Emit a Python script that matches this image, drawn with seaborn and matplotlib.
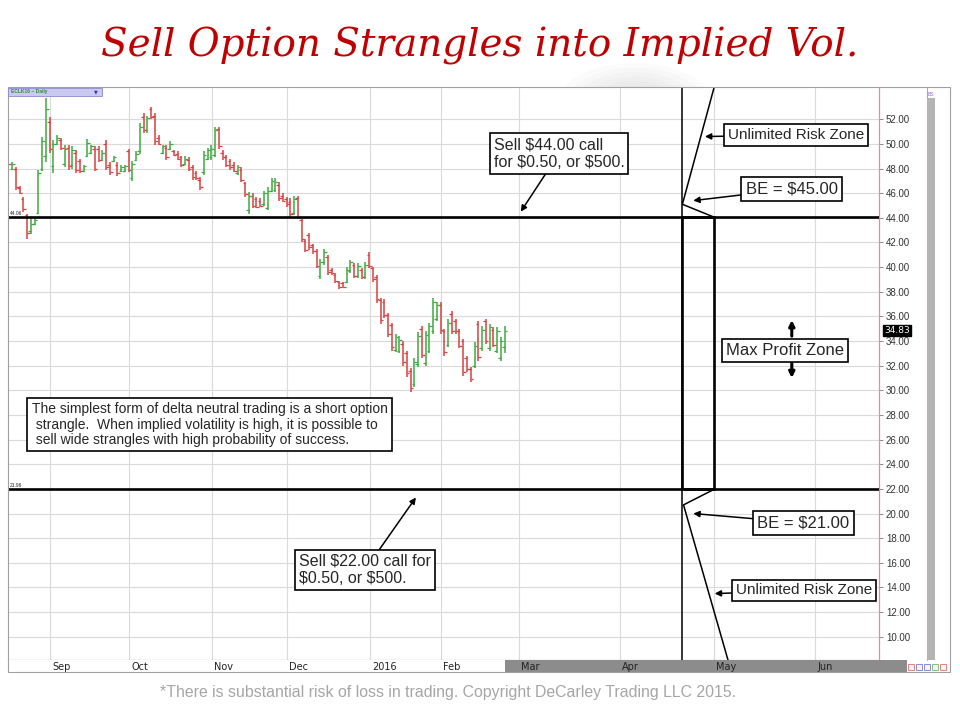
import numpy as np
import pandas as pd
import matplotlib
matplotlib.use("Agg")
import matplotlib.pyplot as plt
import matplotlib.patches as mpatches
import matplotlib.transforms as mtransforms
import seaborn as sns

# daily OHLC bars, ECLK16 (Aug 2015 - Feb 2016)
highs = [49.0, 48.5, 48.1, 46.6, 45.7, 44.3, 43.9, 44.0, 47.9, 50.6,
         53.7, 52.2, 50.3, 50.7, 50.5, 49.9, 49.9, 49.8, 49.5, 48.8,
         48.3, 50.4, 49.9, 49.8, 49.8, 49.5, 50.3, 48.5, 49.0, 48.5,
         48.3, 48.3, 49.6, 48.6, 49.4, 51.7, 52.5, 52.3, 53.0, 52.5,
         50.7, 49.9, 49.9, 50.2, 49.5, 49.4, 49.0, 49.0, 48.9, 48.3,
         47.8, 47.3, 49.4, 49.7, 49.9, 51.4, 51.4, 49.5, 49.1, 48.8,
         48.5, 48.3, 48.1, 46.9, 46.1, 46.0, 45.7, 45.6, 46.2, 46.5,
         47.2, 47.2, 46.9, 46.0, 45.7, 45.6, 45.8, 45.8, 43.9, 42.3,
         42.8, 41.9, 41.5, 40.7, 41.5, 41.0, 39.9, 39.5, 38.9, 38.8,
         40.0, 40.6, 40.3, 40.3, 39.9, 40.4, 41.2, 40.0, 39.4, 37.5,
         37.4, 36.3, 35.5, 34.6, 34.4, 34.0, 33.2, 31.8, 32.6, 34.7,
         35.2, 34.8, 35.5, 37.5, 37.2, 37.2, 35.0, 35.8, 36.4, 35.8,
         35.0, 34.2, 32.8, 31.9, 33.9, 35.6, 35.2, 35.8, 35.4, 35.1,
         35.1, 34.3, 35.2]
lows = [48.2, 47.9, 46.3, 45.9, 44.5, 42.3, 42.7, 43.4, 44.3, 47.8,
        48.5, 49.3, 47.6, 49.9, 49.5, 48.1, 47.9, 48.0, 47.6, 47.6,
        47.7, 48.9, 49.2, 47.8, 48.5, 48.6, 47.9, 47.5, 48.5, 47.4,
        47.7, 47.7, 47.7, 47.0, 48.6, 49.2, 50.9, 50.9, 52.0, 49.9,
        49.9, 49.2, 48.7, 49.5, 49.0, 48.7, 48.1, 48.3, 47.8, 47.1,
        47.1, 46.3, 47.5, 48.7, 48.7, 48.9, 49.6, 48.7, 48.1, 47.9,
        47.7, 47.5, 46.9, 45.7, 44.3, 44.8, 44.8, 44.9, 45.0, 44.6,
        46.1, 46.1, 45.4, 45.3, 44.9, 44.1, 44.2, 43.9, 42.0, 41.2,
        41.4, 41.1, 39.9, 39.0, 40.2, 39.4, 39.4, 38.7, 38.2, 38.3,
        38.7, 39.5, 39.1, 39.1, 39.0, 39.0, 39.9, 38.8, 37.1, 35.4,
        35.9, 34.3, 33.2, 33.1, 33.0, 32.0, 31.1, 29.9, 30.3, 31.9,
        32.6, 32.0, 33.0, 34.6, 35.6, 34.6, 32.8, 33.5, 34.6, 34.6,
        33.4, 31.2, 31.5, 30.7, 31.8, 32.4, 33.2, 33.8, 33.2, 33.5,
        33.0, 32.4, 33.0]
opens = [48.9, 48.0, 48.0, 46.4, 45.5, 44.2, 42.9, 43.5, 44.4, 48.0,
         49.0, 51.8, 48.2, 50.0, 50.3, 48.4, 49.7, 48.3, 49.3, 48.6,
         47.8, 49.0, 49.3, 49.6, 49.6, 48.7, 50.0, 48.3, 48.6, 48.3,
         47.8, 47.8, 49.4, 47.2, 48.7, 49.4, 52.2, 51.1, 52.8, 52.3,
         50.5, 49.3, 49.7, 49.6, 49.4, 49.2, 48.9, 48.4, 48.7, 48.1,
         47.6, 47.1, 47.7, 48.8, 48.9, 49.1, 51.2, 49.3, 48.9, 48.6,
         48.3, 47.6, 47.9, 46.8, 44.6, 45.8, 45.5, 45.4, 45.1, 44.8,
         46.2, 46.3, 46.7, 45.8, 45.5, 45.3, 44.4, 45.6, 43.8, 42.1,
         42.6, 41.8, 41.3, 39.3, 40.4, 40.8, 39.8, 39.4, 38.8, 38.7,
         38.8, 39.7, 40.2, 39.3, 39.8, 39.2, 41.0, 39.9, 39.2, 37.3,
         37.2, 36.1, 35.3, 33.3, 33.2, 33.8, 33.0, 31.6, 30.5, 32.1,
         35.0, 32.2, 33.2, 34.8, 35.8, 36.9, 34.8, 33.7, 36.2, 35.6,
         34.8, 34.0, 32.6, 31.7, 32.0, 35.4, 33.4, 35.6, 33.4, 34.9,
         33.2, 32.6, 33.5]
closes = [48.4, 48.4, 46.5, 46.0, 44.7, 42.8, 43.5, 43.8, 47.6, 50.2,
          52.8, 49.6, 50.0, 50.5, 49.7, 49.6, 48.2, 49.5, 47.9, 47.8,
          48.2, 50.1, 49.8, 48.0, 48.7, 49.3, 48.1, 47.7, 48.9, 47.6,
          48.1, 48.2, 47.9, 48.4, 49.2, 51.4, 51.1, 52.1, 52.2, 50.2,
          50.0, 49.8, 48.9, 50.0, 49.1, 48.8, 48.3, 48.8, 48.0, 47.3,
          47.2, 46.5, 49.1, 49.5, 49.6, 51.1, 49.8, 48.9, 48.3, 48.1,
          47.8, 48.1, 47.1, 45.9, 45.8, 45.0, 44.9, 45.0, 46.0, 46.2,
          47.0, 46.9, 45.6, 45.4, 45.1, 44.3, 45.5, 44.1, 42.3, 41.4,
          41.6, 41.3, 40.1, 40.4, 41.2, 39.6, 39.5, 38.9, 38.4, 38.4,
          39.8, 40.4, 39.3, 40.1, 39.2, 40.2, 40.1, 39.0, 37.4, 35.7,
          36.1, 34.6, 33.5, 34.3, 34.1, 32.3, 31.4, 30.2, 32.3, 34.4,
          32.9, 34.5, 35.2, 37.2, 36.9, 34.9, 33.1, 35.5, 34.8, 34.8,
          33.6, 31.5, 31.7, 30.9, 33.6, 32.7, 34.9, 34.0, 35.1, 33.7,
          34.8, 34.0, 34.83]

# x axis: month starts in bar-index units (future months are drawn wider)
month_pos = [11.1, 32.1, 54.2, 74.1, 96.2, 115.1, 135.8, 162.7, 187.7, 214.5]
month_labels = ["Sep", "Oct", "Nov", "Dec", "2016", "Feb", "Mar", "Apr", "May", "Jun"]
price_ticks = list(range(10, 54, 2))

# strangle
call_strike = 44.06
put_strike = 21.96
expiry_x = 179.3
box_right = 187.7
upper_payoff_x = [box_right, expiry_x, 188.1]
upper_payoff_y = [call_strike, 45.1, 55.0]
lower_payoff_x = [box_right, 179.6, 192.0]
lower_payoff_y = [put_strike, 20.7, 7.5]

df = pd.DataFrame({"high": highs, "low": lows, "open": opens, "close": closes})
df["idx"] = np.arange(len(df))
df["col"] = np.where(df["close"] >= df["open"], "#3ea83e", "#d94040")

sns.set_theme(style="whitegrid")
plt.rcParams["font.family"] = ["Liberation Sans", "DejaVu Sans"]

W, H = 960, 720
fig = plt.figure(figsize=(9.6, 7.2), dpi=100)
fig.patch.set_facecolor("white")

def fx(x):
    return x / W

def fy(y):
    return 1 - y / H

# soft grey shadow behind the title
for k in range(8):
    fig.patches.append(mpatches.Ellipse((fx(635), fy(108)), fx(160 - k * 17), (90 - k * 9) / H,
                                        transform=fig.transFigure, color="#808080",
                                        alpha=0.03, lw=0, zorder=-5))

fig.text(0.5, fy(46), "Sell Option Strangles into Implied Vol.", color="#c00000",
         fontsize=28, family="DejaVu Serif", style="italic", ha="center", va="center")

ax = fig.add_axes([fx(8), fy(660), fx(871), 572 / H])
ax.set_facecolor("white")
ax.set_xlim(-0.1, 231.6)
ax.set_ylim(8.11, 54.54)

ax.vlines(df["idx"], df["low"], df["high"], colors=df["col"], lw=1.1, zorder=3)
ax.hlines(df["open"], df["idx"] - 0.7, df["idx"], colors=df["col"], lw=0.9, zorder=3)
ax.hlines(df["close"], df["idx"], df["idx"] + 0.7, colors=df["col"], lw=0.9, zorder=3)

ax.set_xticks(month_pos)
ax.set_xticklabels([])
ax.set_yticks(price_ticks)
ax.set_yticklabels([f"{v:.2f}" for v in price_ticks])
ax.yaxis.tick_right()
ax.tick_params(axis="y", labelsize=7, length=3, width=0.6, color="#777777",
               labelcolor="#333333", pad=2, right=True)
ax.tick_params(axis="x", length=0)
ax.grid(True, color="#dadada", lw=0.8)
for s in ["left", "top"]:
    ax.spines[s].set_visible(False)
for s in ["right", "bottom"]:
    ax.spines[s].set_color("#f08a8a")
    ax.spines[s].set_linewidth(0.9)

# strikes, expiry and payoff
ax.axhline(call_strike, color="black", lw=1.9, zorder=4)
ax.axhline(put_strike, color="black", lw=1.9, zorder=4)
ax.text(0.3, call_strike + 0.2, f"{call_strike:.2f}", fontsize=3.5, color="#222222")
ax.text(0.3, put_strike + 0.2, f"{put_strike:.2f}", fontsize=3.5, color="#222222")
ax.axvline(expiry_x, color="black", lw=1.1, zorder=4)
ax.add_patch(mpatches.Rectangle((expiry_x, put_strike), box_right - expiry_x,
                                call_strike - put_strike, fill=False, ec="black", lw=1.9, zorder=4))
sns.lineplot(x=upper_payoff_x, y=upper_payoff_y, sort=False, estimator=None,
             color="black", lw=1.1, ax=ax, zorder=4)
sns.lineplot(x=lower_payoff_x, y=lower_payoff_y, sort=False, estimator=None,
             color="black", lw=1.1, ax=ax, zorder=4)

# last price marker
tr = mtransforms.blended_transform_factory(ax.transAxes, ax.transData)
ax.text(1.006, closes[-1], f"{closes[-1]:.2f}", transform=tr, fontsize=6.5, color="white",
        ha="left", va="center", family="DejaVu Sans",
        bbox=dict(boxstyle="square,pad=0.1", fc="black", ec="black"), zorder=6)

box = dict(boxstyle="square,pad=0.25", fc="white", ec="black", lw=1.2)
arrow = dict(arrowstyle="-|>", color="black", lw=1.1, mutation_scale=9, shrinkA=0, shrinkB=0)

def note(text, tip, center, size=11):
    ax.annotate(text, xy=tip, xycoords="data", xytext=(center[0], H - center[1]),
                textcoords="figure pixels", ha="center", va="center", fontsize=size,
                multialignment="left", bbox=box, arrowprops=arrow, zorder=7,
                annotation_clip=False)

note("Sell \\$44.00 call\nfor \\$0.50, or \\$500.", (136.3, 44.5), (559, 153.5), 11.5)
note("Unlimited Risk Zone", (185.3, 50.6), (796, 135), 11)
note("BE = \\$45.00", (182.2, 45.4), (791.5, 189), 12)
note("BE = \\$21.00", (182.2, 20.0), (803.5, 523), 12)
note("Unlimited Risk Zone", (187.9, 13.5), (804, 590.5), 11)
note("Sell \\$22.00 call for\n\\$0.50, or \\$500.", (108.4, 21.3), (365, 570), 11.5)

fig.text(fx(209.5), fy(424.5),
         "The simplest form of delta neutral trading is a short option\n"
         " strangle.  When implied volatility is high, it is possible to\n"
         " sell wide strangles with high probability of success.",
         ha="center", va="center", multialignment="left", fontsize=10, linespacing=1.15,
         zorder=8, bbox=dict(boxstyle="square,pad=0.3", fc="white", ec="black", lw=1.2))

fig.text(fx(785), fy(350.5), "Max Profit Zone", ha="center", va="center", fontsize=12,
         zorder=8, bbox=box)
thick = dict(arrowstyle="-|>", color="black", lw=2.2, mutation_scale=8, shrinkA=0, shrinkB=0)
ax.annotate("", xy=(208.4, 35.7), xytext=(208.4, 34.4), arrowprops=thick, zorder=7)
ax.annotate("", xy=(208.4, 31.0), xytext=(208.4, 32.3), arrowprops=thick, zorder=7)

# bottom date strip
ax2 = fig.add_axes([fx(8), fy(672), fx(871), 12 / H])
ax2.set_xlim(-0.1, 231.6)
ax2.set_ylim(0, 1)
ax2.axvspan(132.1, 231.6, color="#8c8c8c", lw=0)
for p, lab in zip(month_pos, month_labels):
    ax2.text(p + 0.6, 0.45, lab, fontsize=7, color="#222222", va="center", ha="left",
             family="DejaVu Sans")
ax2.set_xticks([])
ax2.set_yticks([])
ax2.grid(False)
for s in ax2.spines.values():
    s.set_visible(False)

# chart window furniture
fig.patches.append(mpatches.Rectangle((fx(879), fy(672)), fx(28), 12 / H, transform=fig.transFigure,
                                      color="#8c8c8c", lw=0, zorder=2))
for i, c in enumerate(["#e05050", "#6060d0", "#6060d0", "#50b050", "#e05050"]):
    fig.patches.append(mpatches.Rectangle((fx(908 + i * 8), fy(670)), fx(6), 6 / H,
                                          transform=fig.transFigure, fc="#f4f4f4", ec=c,
                                          lw=0.5, zorder=3))
fig.patches.append(mpatches.Rectangle((fx(927), fy(660)), fx(8), 562 / H, transform=fig.transFigure,
                                      color="#b4b4b4", lw=0, zorder=2))
fig.lines.append(plt.Line2D([fx(927), fx(927)], [fy(88), fy(660)], transform=fig.transFigure,
                            color="#f08a8a", lw=0.8))
fig.text(fx(928), fy(95), "BS", fontsize=3.5, color="#8a6ad0", va="center")
fig.patches.append(mpatches.Rectangle((fx(8), fy(672)), fx(942), 585 / H, transform=fig.transFigure,
                                      fill=False, ec="#a0a0a0", lw=0.8, zorder=3))
fig.patches.append(mpatches.Rectangle((fx(8), fy(96)), fx(94), 8 / H, transform=fig.transFigure,
                                      fc="#c9c9f2", ec="#8a8ad0", lw=0.6, zorder=3))
fig.text(fx(11), fy(92), "ECLK16 ~ Daily", fontsize=3.5, color="#2f8f2f", weight="bold",
         va="center", zorder=4)
fig.text(fx(96), fy(92), "\u25bc", fontsize=3.5, color="#3030b0", va="center", ha="center",
         family="DejaVu Sans", zorder=4)

fig.text(fx(448), fy(692),
         "*There is substantial risk of loss in trading. Copyright DeCarley Trading LLC 2015.",
         color="#a6a6a6", fontsize=11.4, family=["Liberation Sans Narrow", "Liberation Sans"],
         ha="center", va="center")

fig.savefig("out.png", dpi=100)
